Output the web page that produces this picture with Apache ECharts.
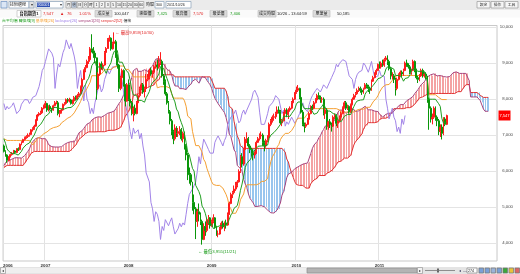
<!DOCTYPE html>
<html><head><meta charset="utf-8">
<script src="https://cdn.jsdelivr.net/npm/echarts@6/dist/echarts.min.js"></script>
<style>html,body{margin:0;padding:0;background:#fff}#c{width:520px;height:274px}</style>
</head><body><div id="c"></div><script>
// weekly [open, close, low, high]; prior weeks only feed the Ichimoku look-back windows
const priorWeeks2005 = [
[6000,5950,5900,6040],[5950,5980,5910,6010],[5980,5970,5930,6030],[5970,6040,5950,6070],
[6040,6080,6020,6110],[6080,6150,6060,6180],[6150,6130,6090,6200],[6130,6170,6100,6210],
[6170,6140,6100,6220],[6140,6090,6050,6160],[6090,6010,5980,6110],[6010,6000,5950,6050],
[6000,6040,5970,6080],[6040,5950,5920,6060],[5950,5700,5600,5960],[5700,5820,5640,5850],
[5820,5900,5800,5930],[5900,5950,5870,5980],[5950,5990,5920,6020],[5990,6050,5960,6080],[6050,6090,6020,6110],
[6090,6120,6060,6150],[6120,6180,6100,6210],[6180,6240,6150,6260],[6240,6250,6200,6290],
[6250,6220,6180,6280],[6220,6280,6200,6310],[6280,6300,6250,6330],[6300,6340,6280,6380],
[6340,6400,6320,6480],[6400,6330,6290,6420],[6330,6200,6170,6350],[6200,6130,6080,6230],[6130,6050,6010,6150],
[6050,6150,6030,6180],[6150,6130,6100,6200],[6130,6100,6060,6160],[6100,6120,6070,6160],
[6120,6030,5990,6140],[6030,5930,5900,6050],[5930,5780,5740,5950],[5780,5680,5620,5800],[5680,5800,5650,5830],
[5800,5930,5790,5950],[5930,6000,5900,6030],[6000,6150,5980,6170],[6150,6200,6120,6240],
[6200,6300,6180,6320],[6300,6380,6270,6400],[6380,6450,6350,6480],[6450,6548,6430,6560]];
const priorWeeks2006 = [
[6548,6550,6480,6600],[6550,6680,6530,6710],[6680,6620,6580,6720],[6620,6650,6600,6690],[6650,6640,6610,6680],
[6640,6560,6520,6660],[6560,6570,6510,6600],[6570,6600,6540,6640],[6600,6530,6490,6620],
[6530,6450,6420,6550],[6450,6560,6430,6580],[6560,6580,6530,6610],[6580,6620,6560,6650],
[6620,6820,6610,6840],[6820,6900,6790,6930],[6900,7050,6880,7080],[7050,7170,7020,7200],
[7170,7300,7150,7370],[7300,7200,7150,7474],[7200,6980,6940,7220],[6980,6850,6780,7000],[6850,6750,6700,6880],
[6750,6550,6500,6780],[6550,6380,6330,6570],[6380,6550,6360,6590],[6550,6700,6530,6720]];
// shown weeks, from the week of 2006-07-03
const ohlc2006 = [
[6700,6550,6520,6740],[6550,6450,6400,6580],[6450,6300,6232,6470],[6300,6400,6270,6420],[6400,6460,6380,6490],
[6460,6500,6430,6530],[6500,6560,6470,6590],[6560,6520,6480,6580],[6520,6620,6500,6640],
[6620,6600,6560,6660],[6600,6750,6580,6770],[6750,6800,6720,6830],[6800,6880,6780,6900],
[6880,6930,6850,6960],[6930,6960,6900,7000],[6960,7000,6920,7050],[7000,7020,6960,7070],[7020,7150,7000,7170],
[7150,7180,7100,7220],[7180,7250,7150,7290],[7250,7420,7230,7440],[7420,7560,7400,7590],
[7560,7600,7520,7640],[7600,7620,7560,7680],[7620,7750,7600,7780],[7750,7823,7720,7850]];
const ohlc2007 = [
[7823,7880,7750,7950],[7880,7700,7650,7900],[7700,7800,7660,7830],[7800,7730,7690,7850],[7730,7700,7620,7760],
[7700,7820,7680,7850],[7820,7900,7800,7950],[7900,7900,7860,7960],[7900,7600,7550,7950],
[7600,7640,7500,7700],[7640,7700,7600,7740],[7700,7860,7680,7880],[7860,7880,7820,7920],
[7880,7990,7860,8020],[7990,7950,7900,8030],[7950,7980,7910,8040],[7980,7880,7850,8010],[7880,7950,7850,7990],
[7950,8050,7930,8090],[8050,8000,7960,8100],[8000,8100,7980,8150],[8100,8150,8060,8200],
[8150,8350,8120,8380],[8350,8550,8320,8590],[8550,8800,8530,8830],[8800,8880,8750,8950],
[8880,9050,8860,9100],[9050,9100,8980,9200],[9100,9400,9080,9450],[9400,9350,9300,9807],[9350,9280,9150,9450],
[9280,9150,9000,9350],[9150,8300,7987,9160],[8300,8700,8250,8750],[8700,8980,8650,9020],
[8980,8900,8820,9050],[8900,8950,8800,9000],[8950,9300,8930,9340],[9300,9410,9280,9450],
[9410,9650,9400,9700],[9650,9700,9600,9780],[9700,9400,9350,9720],[9400,9550,9380,9600],[9550,9600,9500,9859],
[9600,9200,9150,9650],[9200,8950,8850,9250],[8950,8300,8200,8980],[8300,8600,8250,8650],
[8600,8800,8550,8850],[8800,8400,8350,8830],[8400,7950,7800,8420],[7950,8400,7930,8450]];
const ohlc2008 = [
[8400,8000,7950,8550],[8000,7900,7800,8100],[7900,7600,7550,7950],[7600,7750,7384,7800],[7750,7600,7550,7850],
[7600,7900,7580,7950],[7900,8100,7880,8150],[8100,8300,8050,8350],[8300,8400,8250,8450],
[8400,8200,8150,8450],[8200,8300,8050,8350],[8300,8550,8200,8700],[8550,8600,8500,8700],[8600,8800,8550,8850],
[8800,8700,8650,8880],[8700,8750,8600,8800],[8750,8900,8700,8950],[8900,8950,8850,9050],
[8950,8900,8800,9100],[8900,9000,8850,9200],[9000,9050,8950,9309],[9050,8650,8600,9100],
[8650,8500,8400,8700],[8500,8150,8100,8550],[8150,7900,7850,8200],[7900,7650,7600,7950],[7650,7400,7300,7700],
[7400,7100,7000,7450],[7100,6900,6750,7150],[6900,7200,6850,7300],[7200,7050,6950,7250],
[7050,7100,6950,7200],[7100,7150,7000,7250],[7150,6900,6850,7200],[6900,7050,6800,7100],
[7050,6700,6600,7100],[6700,6450,6300,6750],[6450,5950,5750,6500],[5950,5900,5650,6100],[5900,5700,5600,5950],
[5700,5130,4900,5700],[5130,4950,4800,5350],[4950,4600,4110,5000],[4600,4870,4450,4950],
[4870,4800,4600,5100],[4800,4600,4500,4850],[4600,4100,3955,4650],[4100,4460,4080,4550],
[4460,4350,4200,4600],[4350,4650,4300,4700],[4650,4700,4500,4780],[4700,4480,4400,4720]];
const ohlc2009 = [
[4480,4600,4450,4650],[4600,4700,4550,4800],[4700,4450,4400,4720],[4450,4250,4200,4480],[4250,4250,4160,4350],
[4250,4400,4230,4450],[4400,4550,4380,4600],[4550,4450,4400,4620],[4450,4560,4330,4600],
[4560,4500,4400,4650],[4500,4800,4480,4850],[4800,5100,4780,5150],[5100,5350,5080,5400],[5350,5400,5250,5450],
[5400,5500,5350,5600],[5500,5600,5450,5700],[5600,5700,5550,5750],[5700,5990,5680,6050],
[5990,6400,5950,6450],[6400,6200,6100,6500],[6200,6600,6150,6650],[6600,6890,6550,6950],
[6890,6900,6780,7080],[6900,6700,6650,6950],[6700,6600,6500,6750],[6600,6500,6400,6650],[6500,6450,6300,6550],
[6450,6500,6350,6550],[6500,6800,6480,6850],[6800,6900,6780,6950],[6900,6980,6850,7050],
[6980,7000,6900,7100],[7000,6800,6700,7050],[6800,6700,6550,6850],[6700,6850,6650,6900],[6850,6950,6800,7000],
[6950,7300,6930,7350],[7300,7400,7250,7450],[7400,7500,7350,7550],[7500,7510,7400,7600],
[7510,7600,7450,7650],[7600,7700,7550,7800],[7700,7650,7600,7800],[7650,7340,7300,7700],
[7340,7400,7250,7450],[7400,7600,7380,7650],[7600,7700,7550,7750],[7700,7580,7500,7750],[7580,7700,7450,7750],
[7700,7750,7650,7800],[7750,7900,7720,7950],[7900,8000,7850,8050],[8000,8188,7980,8200]];
const ohlc2010 = [
[8188,8250,8150,8350],[8250,8300,8200,8395],[8300,8050,8000,8320],[8050,7640,7600,8080],
[7640,7300,7250,7700],[7300,7250,7080,7350],[7250,7300,7200,7350],[7300,7440,7280,7480],
[7440,7600,7420,7650],[7600,7800,7580,7830],[7800,7750,7700,7850],[7750,7900,7720,7950],[7900,7980,7880,8030],
[7980,8100,7950,8150],[8100,8050,8000,8190],[8050,8000,7900,8100],[8000,8000,7900,8060],
[8000,7600,7550,8050],[7600,7700,7450,7750],[7700,7250,7150,7750],[7250,7370,7150,7400],[7370,7300,7200,7450],
[7300,7250,7100,7350],[7250,7500,7230,7550],[7500,7550,7450,7600],[7550,7330,7250,7580],
[7330,7400,7200,7450],[7400,7500,7350,7550],[7500,7600,7450,7650],[7600,7760,7580,7800],
[7760,7900,7740,7950],[7900,7750,7700,7950],[7750,7800,7700,7850],[7800,7650,7600,7830],[7650,7850,7620,7880],
[7850,8000,7830,8050],[8000,8100,7980,8150],[8100,8150,8050,8200],[8150,8240,8120,8300],
[8240,8300,8200,8350],[8300,8250,8180,8350],[8250,8200,8120,8300],[8200,8290,8150,8320],
[8290,8400,8270,8450],[8400,8350,8300,8450],[8350,8300,8200,8400],[8300,8250,8150,8350],[8250,8500,8230,8550],
[8500,8600,8480,8650],[8600,8700,8580,8750],[8700,8800,8680,8850],[8800,8972,8780,8990]];
const ohlc2011 = [
[8972,8900,8850,9050],[8900,9000,8850,9050],[9000,8950,8900,9100],[8950,9100,8900,9150],[9100,9145,9050,9200],
[9145,9050,8950,9220],[9050,8850,8800,9100],[8850,8650,8550,8900],[8650,8650,8550,8750],
[8650,8550,8450,8700],[8550,8300,8100,8600],[8300,8550,8250,8600],[8550,8680,8520,8720],
[8680,8750,8650,8800],[8750,8700,8620,8800],[8700,8800,8650,8850],[8800,9007,8780,9050],
[9007,8950,8900,9100],[8950,8900,8850,9000],[8900,8750,8700,8950],[8750,8800,8680,8850],[8800,9050,8780,9100],
[9050,8800,8750,9080],[8800,8600,8550,8850],[8600,8550,8450,8650],[8550,8650,8500,8700],
[8650,8800,8620,8850],[8800,8650,8600,8850],[8650,8700,8600,8750],[8700,8640,8550,8750],
[8640,8000,7900,8650],[8000,7750,7150,8050],[7750,7450,7350,7800],[7450,7500,7300,7600],[7500,7750,7450,7800],
[7750,7500,7400,7800],[7500,7400,7250,7550],[7400,7100,7000,7450],[7100,7225,6950,7300],
[7225,7050,6880,7300],[7050,7450,7000,7500],[7450,7300,7250,7500],[7300,7547,7280,7570]];

const yearLabels = ['2006','2007','2008','2009','2010','2011'];
const yearStartWeek = [0,26,78,130,183,235];
const yGridValues = [4000,5000,6000,7000,8000,9000,10000];
const lastPrice = 7547;
const hiDateText = '10/30', loDateText = '11/21';
const legendNames = ['台平均價 轉換線[9]','基準線[26]','lockspan[26]','senpan1[26]','senpan2[52]','價格'];
const periodButtons = ['月','週','日','分','時','1','2','3','5','10','15','20','30','60'];
const quoteName = '台指期貨1';
const quoteMain = ['7,547','▲','76','1.01%'];
const quoteFieldNames = ['成交量','開盤價','最高價','最低價','成交時間','單筆量'];
const quoteFieldValues = ['100,047','7,425','7,570','7,406','10/26 - 13:44:59','50,185'];

const FONT = "'Liberation Sans','Noto Sans CJK TC',Arial,sans-serif";
const C = {tenkan:'#1f9e1f', kijun:'#f5a033', chikou:'#a284e8', spanA:'#a8457e', spanB:'#e23434', up:'#ff1c1c', down:'#0a960a'};

const prior = priorWeeks2005.concat(priorWeeks2006);
const shown = ohlc2006.concat(ohlc2007, ohlc2008, ohlc2009, ohlc2010, ohlc2011);
const all = prior.concat(shown);
const P = prior.length, N = shown.length, SHIFT = 26, SLOTS = 309;
const firstWeek = Date.UTC(2006,6,3);
const weekDates = Array.from({length:SLOTS},(_,i)=>new Date(firstWeek+i*604800000).toISOString().slice(0,10));

function mid(end,len){let hi=-Infinity,lo=Infinity;for(let k=Math.max(0,end-len+1);k<=end;k++){hi=Math.max(hi,all[k][3]);lo=Math.min(lo,all[k][2]);}return (hi+lo)/2;}
const tenkan=[],kijun=[],spanA=[],spanB=[],chikou=[],cloud=[];
for(let i=0;i<SLOTS;i++){
  const a=P+i;
  tenkan.push(i<N?mid(a,9):null);
  kijun.push(i<N?mid(a,26):null);
  const s=a-SHIFT; let A=null,B=null;
  if(s>=0&&s<all.length){A=(mid(s,9)+mid(s,26))/2;B=mid(s,52);}
  spanA.push(A); spanB.push(B);
  if(A!==null) cloud.push([i,A,B]);
  chikou.push(i+SHIFT<N?shown[i+SHIFT][1]:null);
}
let hiIdx=0,loIdx=0;
shown.forEach((d,i)=>{if(d[3]>shown[hiIdx][3])hiIdx=i;if(d[2]<shown[loIdx][2])loIdx=i;});
const hiVal=shown[hiIdx][3], loVal=shown[loIdx][2];
const fmt=v=>v.toLocaleString('en-US');

function T(x,y,text,fill,size,o){o=o||{};return {type:'text',x,y,silent:true,z:100,style:{text,fill,font:(o.bold?'bold ':'')+size+'px '+FONT,textAlign:o.align||'left',align:o.align||'left',textVerticalAlign:'middle',verticalAlign:'middle'}};}
function R(x,y,w,h,fill,stroke){return {type:'rect',silent:true,z:90,shape:{x,y,width:w,height:h},style:{fill,stroke:stroke||null,lineWidth:stroke?0.7:0}};}

const g=[];
// toolbar
g.push(R(0,0,520,10,'#ebebeb'));
g.push(R(1,1.5,6,6.5,'#dbe6f5','#6b8fc0'));
g.push(R(9,1.5,20,6.5,'#fff','#8aa0b8')); g.push(T(10,4.8,'技術週線','#222',4));
g.push(R(29,1.5,5,6.5,'#e2e2e2','#8aa0b8')); g.push(T(31.5,4.8,'▾','#333',4,{align:'center'}));
g.push(R(36,1.5,27,6.5,'#fff','#8aa0b8')); g.push(R(37,2.5,13,4.5,'#2d4fb3')); g.push(T(37.5,4.8,'IX0001','#fff',3.8));
g.push(T(60.5,4.8,'▾','#333',4,{align:'center'}));
periodButtons.forEach((b,k)=>{const x=66+k*5.6;g.push(R(x,1.5,5,6.5,k===1?'#c9d8ee':'#f6f6f6','#9a9a9a'));g.push(T(x+2.5,4.8,b,'#222',3.6,{align:'center'}));});
g.push(T(146,4.8,'時間','#222',4));
g.push(R(155,1.5,9,6.5,'#fff','#8aa0b8')); g.push(T(156,4.8,'300','#222',3.6));
g.push(R(166,1.5,25,6.5,'#fff','#8aa0b8')); g.push(T(167,4.8,'2011/10/26','#222',3.6));
['設定','操作','工具'].forEach((b,k)=>{const x=477+k*14;g.push(R(x,1.5,13,6.5,'#f6f6f6','#9a9a9a'));g.push(T(x+6.5,4.8,b,'#222',3.8,{align:'center'}));});
// quote row
g.push(R(0,10,520,7.5,'#fafafa'));
g.push(R(17,10.5,24,6.5,'#fff','#bdbdbd')); g.push(T(29,13.8,quoteName,'#111',4.2,{align:'center',bold:true}));
[[43,0],[60,1],[67,2],[79,3]].forEach(([x,k])=>g.push(T(x,13.8,quoteMain[k],'#e02020',4.2)));
const fx=[95,137,173,210,258,313], vx=[114,157,193,230,277,337];
const vc=['#222','#1a9a1a','#e02020','#1a9a1a','#222','#222'];
quoteFieldNames.forEach((n,k)=>{const w=n.length>3?18:17;g.push(R(fx[k],10.5,w,6.5,'#dcdcdc','#bdbdbd'));g.push(T(fx[k]+w/2,13.8,n,'#222',4,{align:'center'}));g.push(T(vx[k],13.8,quoteFieldValues[k],vc[k],4.1));});
// legend row: one rich text so the items flow without overlapping
const lc=[C.tenkan,C.kijun,C.chikou,C.spanA,C.spanB,'#333'];
const legendRich={};
lc.forEach((c,k)=>{legendRich['l'+k]={fill:c,color:c,fontSize:3.9,fontFamily:FONT,padding:[0,1.2,0,0]};});
g.push({type:'text',x:2,y:21,silent:true,z:100,style:{text:legendNames.map((n,k)=>'{l'+k+'|'+n+'}').join(''),rich:legendRich,font:'3.9px '+FONT,textAlign:'left',align:'left',textVerticalAlign:'middle',verticalAlign:'middle'}});
// bottom scroll strip
g.push(R(0,267,520,7,'#e4e4e4'));
g.push(R(0.5,267.5,5,6,'#f3f3f3','#999')); g.push(T(3,270.5,'◂','#444',4,{align:'center'}));
g.push(R(6,268,411,5,'#efefef'));
g.push(R(307,268,110,5,'#b4b4b4','#8c8c8c'));
g.push(R(417.5,267.5,5,6,'#f3f3f3','#999')); g.push(T(420,270.5,'▸','#444',4,{align:'center'}));
g.push({type:'line',silent:true,z:95,shape:{x1:425,y1:270.5,x2:455,y2:270.5},style:{stroke:'#777',lineWidth:0.8}});
g.push(R(437,268.5,2,4,'#666'));
g.push(T(459,270.5,'◂','#446',4)); g.push(T(463,270.5,'—','#446',4));
g.push(R(467,268,10,5,'#fff','#888')); g.push(T(468,270.5,'274','#222',3.6));
[['#7aa0d8',479],['#7aa0d8',485],['#9bb3d9',491],['#7aa0d8',497],['#3aa83a',503],['#e8c33a',509],['#d66',515]].forEach(([c,x])=>g.push(R(x,268,4.5,5,c,'#777')));

const option={
  animation:false,
  textStyle:{fontFamily:FONT},
  graphic:g,
  grid:{left:2,right:23,top:25.5,bottom:13,show:true,borderColor:'#c9c9c9',borderWidth:1,backgroundColor:'#fff'},
  xAxis:{type:'category',data:weekDates,boundaryGap:true,
    axisLine:{show:false},axisTick:{show:false},
    axisLabel:{interval:(i)=>yearStartWeek.includes(i),fontSize:4.4,fontWeight:'bold',color:'#333',margin:2.5,
      formatter:(v,i)=>{const k=yearStartWeek.indexOf(i);if(k<0)return '';return k===0?'{first|'+yearLabels[0]+'}':yearLabels[k];},
      rich:{first:{padding:[0,0,0,8],fontSize:4.4,fontWeight:'bold',color:'#333'}}},
    splitLine:{show:true,interval:(i)=>yearStartWeek.includes(i)&&i>0,lineStyle:{color:'#e2e2e2',width:1}}},
  yAxis:{type:'value',position:'right',min:3500,max:10050,interval:500,
    axisLine:{show:false},axisTick:{show:false},splitLine:{show:false},
    axisLabel:{fontSize:4.3,color:'#444',align:'right',margin:16,formatter:v=>v%1000===0?fmt(v):''}},
  series:[
    {type:'custom',silent:true,z:0,data:yGridValues.map(v=>[0,v]),encode:{x:0,y:1},
      renderItem:(p,api)=>{const cs=p.coordSys;const y=Math.round(api.coord([0,api.value(1)])[1])+0.5;
        return {type:'line',shape:{x1:cs.x,y1:y,x2:cs.x+cs.width,y2:y},style:{stroke:'#e4e4e4',lineWidth:1}};}},
    {type:'custom',silent:true,z:1,data:cloud,encode:{x:0,y:[1,2]},
      renderItem:(p,api)=>{const a=api.value(1),b=api.value(2);const p1=api.coord([api.value(0),a]),p2=api.coord([api.value(0),b]);
        const x=Math.round(p1[0])+0.5;
        return {type:'line',shape:{x1:x,y1:p1[1],x2:x,y2:p2[1]},style:{stroke:a>=b?'#f4a2a2':'#98c5ee',lineWidth:1}};}},
    {name:legendNames[4],type:'line',data:spanB,showSymbol:false,symbol:'none',z:2,silent:true,lineStyle:{color:C.spanB,width:1}},
    {name:legendNames[3],type:'line',data:spanA,showSymbol:false,symbol:'none',z:2,silent:true,lineStyle:{color:C.spanA,width:1}},
    {name:legendNames[2],type:'line',data:chikou,showSymbol:false,symbol:'none',z:3,silent:true,lineStyle:{color:C.chikou,width:1}},
    {name:legendNames[1],type:'line',data:kijun,showSymbol:false,symbol:'none',z:4,silent:true,lineStyle:{color:C.kijun,width:1}},
    {name:legendNames[5],type:'candlestick',data:shown,z:5,silent:true,barWidth:1.4,
      itemStyle:{color:C.up,color0:C.down,borderColor:C.up,borderColor0:C.down,borderWidth:1},
      markPoint:{silent:true,symbol:'circle',symbolSize:0,data:[
        {coord:[hiIdx,hiVal],label:{show:true,position:'right',distance:1,formatter:'← 最高'+fmt(hiVal)+'('+hiDateText+')',color:'#e22a2a',fontSize:4.3}},
        {coord:[loIdx,loVal],label:{show:true,position:'right',distance:1,offset:[-5,7],formatter:'← 最低'+fmt(loVal)+'('+loDateText+')',color:'#1f9e1f',fontSize:4.3}}]}},
    {name:legendNames[0],type:'line',data:tenkan,showSymbol:false,symbol:'none',z:6,silent:true,lineStyle:{color:C.tenkan,width:1}}
  ]
};
const chart=echarts.init(document.getElementById('c'),null,{renderer:'canvas'});
chart.setOption(option);
// last-price tag on the right axis, placed through the axis scale
const tagY=chart.convertToPixel({yAxisIndex:0},lastPrice);
g.push(R(498.5,tagY-5,12,10,'#ff0000'));
g.push(T(504.5,tagY,fmt(lastPrice),'#fff',4.1,{align:'center'}));
chart.setOption({graphic:g});
</script></body></html>
